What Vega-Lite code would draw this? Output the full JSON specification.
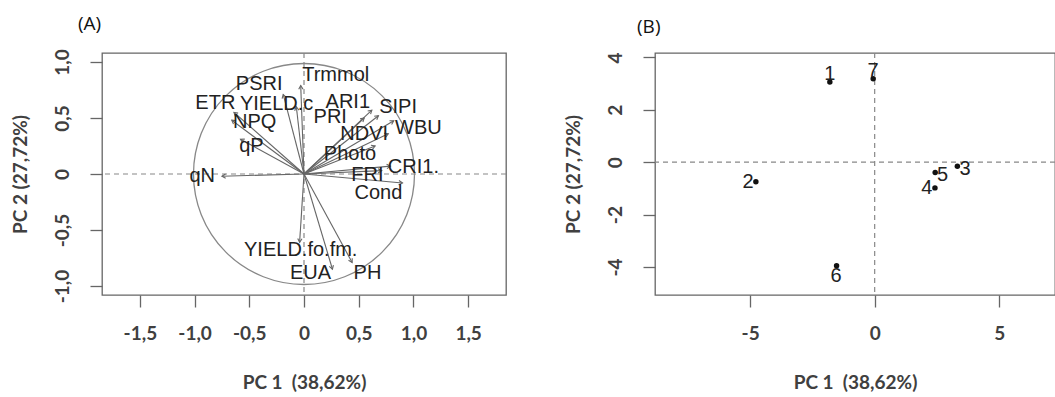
{
  "$schema": "https://vega.github.io/schema/vega-lite/v6.json",
  "padding": {"left": 10, "top": 14, "right": 0, "bottom": 0},
  "spacing": 55,
  "datasets": {
    "origin": [{"x": 0, "y": 0}],
    "vars": [
      {"name": "Trmmol", "x": -0.03, "y": 0.79, "lx": 0.29, "ly": 0.88},
      {"name": "PSRI", "x": -0.19, "y": 0.71, "lx": -0.41, "ly": 0.80},
      {"name": "YIELD.c", "x": -0.07, "y": 0.60, "lx": -0.25, "ly": 0.625},
      {"name": "ETR", "x": -0.64, "y": 0.55, "lx": -0.81, "ly": 0.63},
      {"name": "NPQ", "x": -0.66, "y": 0.48, "lx": -0.45, "ly": 0.46},
      {"name": "qP", "x": -0.58, "y": 0.31, "lx": -0.48, "ly": 0.25},
      {"name": "qN", "x": -0.75, "y": -0.02, "lx": -0.93, "ly": -0.02},
      {"name": "ARI1", "x": 0.62, "y": 0.57, "lx": 0.40, "ly": 0.645},
      {"name": "PRI", "x": 0.55, "y": 0.50, "lx": 0.24, "ly": 0.51},
      {"name": "SIPI", "x": 0.68, "y": 0.52, "lx": 0.86, "ly": 0.595},
      {"name": "WBU", "x": 0.82, "y": 0.475, "lx": 1.045, "ly": 0.41},
      {"name": "NDVI", "x": 0.77, "y": 0.36, "lx": 0.55, "ly": 0.36},
      {"name": "Photo", "x": 0.65, "y": 0.25, "lx": 0.42, "ly": 0.18},
      {"name": "CRI1.", "x": 0.79, "y": 0.07, "lx": 1.0, "ly": 0.06},
      {"name": "FRI", "x": 0.71, "y": 0.03, "lx": 0.58, "ly": -0.01},
      {"name": "Cond", "x": 0.90, "y": -0.08, "lx": 0.68, "ly": -0.17},
      {"name": "YIELD.fo.fm.", "x": -0.04, "y": -0.61, "lx": -0.03, "ly": -0.68},
      {"name": "EUA", "x": 0.26, "y": -0.85, "lx": 0.06, "ly": -0.88},
      {"name": "PH", "x": 0.44, "y": -0.79, "lx": 0.58, "ly": -0.88}
    ],
    "obs": [
      {"id": "1", "x": -1.8, "y": 3.06, "lx": -1.8, "ly": 3.38},
      {"id": "2", "x": -4.77, "y": -0.75, "lx": -5.08, "ly": -0.77},
      {"id": "3", "x": 3.32, "y": -0.15, "lx": 3.63, "ly": -0.24},
      {"id": "4", "x": 2.42, "y": -0.98, "lx": 2.09, "ly": -1.0},
      {"id": "5", "x": 2.43, "y": -0.39, "lx": 2.73, "ly": -0.47},
      {"id": "6", "x": -1.53, "y": -3.95, "lx": -1.55, "ly": -4.33},
      {"id": "7", "x": -0.06, "y": 3.19, "lx": -0.06, "ly": 3.5}
    ]
  },
  "config": {
    "view": {"stroke": "#666", "strokeWidth": 1.3},
    "axis": {
      "domain": false, "grid": false, "tickSize": 12, "tickColor": "#666", "tickWidth": 1.3,
      "labelFont": "Lato", "labelFontWeight": "bold", "labelFontSize": 19, "labelColor": "#404040",
      "titleFont": "Lato", "titleFontWeight": "bold", "titleFontSize": 19, "titleColor": "#404040"
    },
    "axisX": {"labelPadding": 17, "titlePadding": 30},
    "axisY": {"labelAngle": 270, "labelAlign": "center", "labelBaseline": "bottom", "labelPadding": 18, "titlePadding": 23},
    "title": {"font": "Open Sans", "fontSize": 19, "fontWeight": "normal", "color": "#111", "anchor": "start", "frame": "group", "offset": 15}
  },
  "hconcat": [
    {
      "width": 404, "height": 242,
      "title": {"text": "(A)", "dx": -24},
      "layer": [
        {"data": {"name": "origin"},
         "mark": {"type": "rule", "strokeDash": [5, 4], "color": "#888", "strokeWidth": 1.2},
         "encoding": {"y": {"field": "y", "type": "quantitative"}}},
        {"data": {"name": "origin"},
         "mark": {"type": "rule", "strokeDash": [5, 4], "color": "#888", "strokeWidth": 1.2},
         "encoding": {"x": {"field": "x", "type": "quantitative"}}},
        {"data": {"name": "origin"},
         "mark": {"type": "point", "shape": "circle", "filled": false, "stroke": "#888", "strokeWidth": 1.3, "size": 48841, "opacity": 1},
         "encoding": {"x": {"field": "x", "type": "quantitative"}, "y": {"field": "y", "type": "quantitative"}}},
        {"data": {"name": "vars"},
         "mark": {"type": "rule", "color": "#666", "strokeWidth": 1.1},
         "encoding": {
           "x": {"field": "x", "type": "quantitative",
                 "scale": {"domain": [-1.846, 1.846], "nice": false, "zero": false},
                 "axis": {"values": [-1.5, -1, -0.5, 0, 0.5, 1, 1.5], "format": ".1f",
                          "labelExpr": "datum.value == 0 ? '0' : replace(replace(datum.label, '.', ','), '\u2212', '-')",
                          "title": "PC 1\u00a0 (38,62%)"}},
           "y": {"field": "y", "type": "quantitative",
                 "scale": {"domain": [-1.08, 1.08], "nice": false, "zero": false},
                 "axis": {"values": [-1, -0.5, 0, 0.5, 1], "format": ".1f",
                          "labelExpr": "datum.value == 0 ? '0' : replace(replace(datum.label, '.', ','), '\u2212', '-')",
                          "title": "PC 2 (27,72%)"}},
           "x2": {"datum": 0},
           "y2": {"datum": 0}
         }},
        {"data": {"name": "vars"},
         "transform": [{"calculate": "atan2(datum.x, datum.y) * 180 / PI", "as": "angle"}],
         "mark": {"type": "point", "shape": "M-0.55,0.95L0,0L0.55,0.95", "filled": false, "stroke": "#666", "strokeWidth": 1.1, "size": 60, "opacity": 1},
         "encoding": {
           "x": {"field": "x", "type": "quantitative"},
           "y": {"field": "y", "type": "quantitative"},
           "angle": {"field": "angle", "type": "quantitative", "scale": null}
         }},
        {"data": {"name": "vars"},
         "mark": {"type": "text", "font": "Liberation Sans", "fontSize": 20, "color": "#222", "align": "center", "baseline": "middle"},
         "encoding": {
           "x": {"field": "lx", "type": "quantitative"},
           "y": {"field": "ly", "type": "quantitative"},
           "text": {"field": "name"}
         }}
      ]
    },
    {
      "width": 400, "height": 242,
      "title": {"text": "(B)", "dx": -18},
      "layer": [
        {"data": {"name": "origin"},
         "mark": {"type": "rule", "strokeDash": [5, 4], "color": "#888", "strokeWidth": 1.2},
         "encoding": {"y": {"field": "y", "type": "quantitative"}}},
        {"data": {"name": "origin"},
         "mark": {"type": "rule", "strokeDash": [5, 4], "color": "#888", "strokeWidth": 1.2},
         "encoding": {"x": {"field": "x", "type": "quantitative"}}},
        {"data": {"name": "obs"},
         "mark": {"type": "point", "shape": "circle", "filled": true, "color": "#111", "size": 30, "opacity": 1},
         "encoding": {
           "x": {"field": "x", "type": "quantitative",
                 "scale": {"domain": [-8.82, 7.24], "nice": false, "zero": false},
                 "axis": {"values": [-5, 0, 5], "labelExpr": "toString(datum.value)", "title": "PC 1\u00a0 (38,62%)"}},
           "y": {"field": "y", "type": "quantitative",
                 "scale": {"domain": [-5.07, 4.17], "nice": false, "zero": false},
                 "axis": {"values": [-4, -2, 0, 2, 4], "labelExpr": "toString(datum.value)", "title": "PC 2 (27,72%)"}}
         }},
        {"data": {"name": "obs"},
         "mark": {"type": "text", "font": "Liberation Sans", "fontSize": 20, "color": "#222", "align": "center", "baseline": "middle"},
         "encoding": {
           "x": {"field": "lx", "type": "quantitative"},
           "y": {"field": "ly", "type": "quantitative"},
           "text": {"field": "id"}
         }}
      ]
    }
  ]
}
